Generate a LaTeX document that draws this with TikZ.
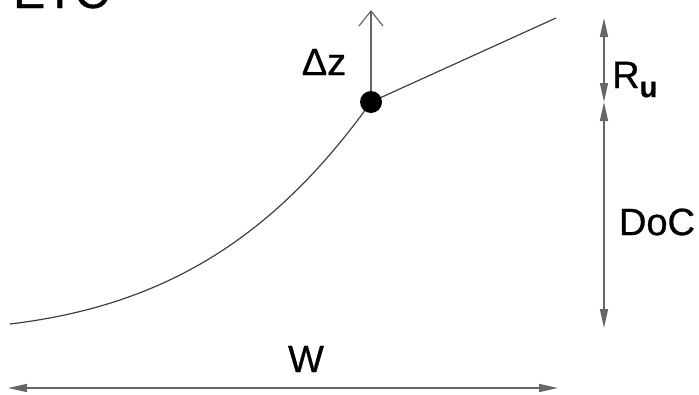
\documentclass[tikz,border=0pt]{standalone}
\usepackage{fontspec}
\setmainfont{Liberation Sans}
\newfontfamily\lblfont{Liberation Sans}[FakeBold=0.7]
\usetikzlibrary{arrows.meta, positioning}
\tikzset{
    profile/.style={draw=black!75, line width=1.2pt},
    lift/.style={draw=black!60, line width=1.4pt, -{Straight Barb[length=15pt,width=24pt,line width=1.2pt]}},
    dim_line/.style={draw=black!60, line width=1.6pt, <->, >={Triangle[length=19pt,width=8pt]}},
    pt/.style={circle, fill=black, minimum size=22pt, inner sep=0pt},
    lbl/.style={inner sep=0pt, font=\lblfont\fontsize{38}{40}\selectfont}
}
\begin{document}
\begin{tikzpicture}[x=1pt, y=-1pt]
\useasboundingbox (0,0) rectangle (699,394);

\coordinate (start) at (10,324);
\coordinate (p) at (371,102);
\coordinate (lineend) at (556,18);
\coordinate (dztop) at (371,10);

% profile and lift
\draw[profile] (start) .. controls (160,306) and (271,242) .. (p);
\draw[profile] (p) -- (lineend);
\draw[lift] (p) -- (dztop);
\node (dot) [pt] at (p) {};
\node (dz) [lbl] at (324,62) {Δz};

% dimensions on the right
\coordinate (ru_top) at (604,18);
\coordinate (ru_bot) at (604,102);
\coordinate (doc_bot) at (604,328);
\draw[dim_line] (ru_top) -- (ru_bot);
\draw[dim_line] (ru_bot) -- (doc_bot);
\node (ru) [lbl, anchor=base west] at (612,88) {R\raisebox{-0.24em}{\fontsize{29}{30}\selectfont\bfseries u}};
\node (doc) [lbl] at (657,222) {DoC};

% width
\coordinate (w_left) at (8,388);
\coordinate (w_right) at (558,388);
\draw[dim_line] (w_left) -- (w_right);
\node (w) [lbl] at (306,359) {W};

% title, cut at the top
\node (etc) [lbl, anchor=base west, font=\lblfont\fontsize{48}{50}\selectfont] at (13,8) {ETC};

\end{tikzpicture}
\end{document}
